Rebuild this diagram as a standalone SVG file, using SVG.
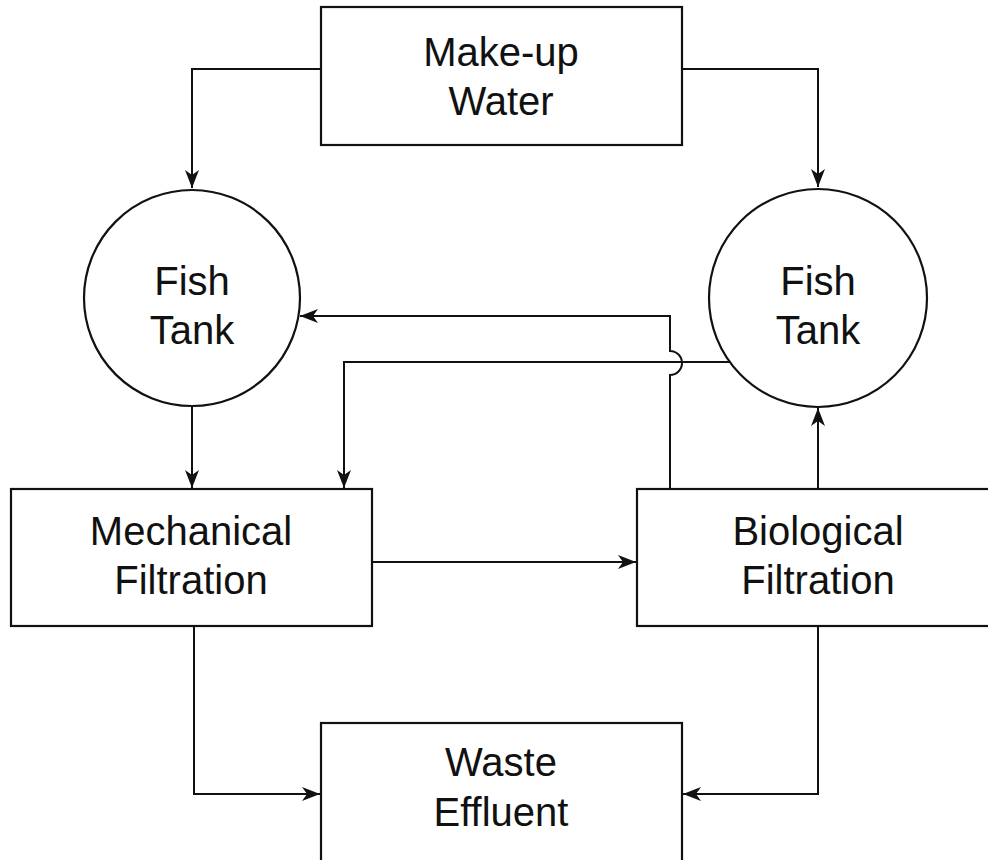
<svg xmlns="http://www.w3.org/2000/svg" width="988" height="860" viewBox="0 0 988 860">
<defs>
<style>
.node{fill:#fff;stroke:#111;stroke-width:2.2}
.lbl{font-family:"Liberation Sans",Arial,sans-serif;font-size:40px;fill:#111;text-anchor:middle}
.conn{fill:none;stroke:#111;stroke-width:2}
</style>
<marker id="arr" markerUnits="userSpaceOnUse" markerWidth="20" markerHeight="16" refX="18" refY="7" orient="auto">
<path d="M0,0 L18,7 L0,14 L5,7 Z" fill="#111"/>
</marker>
</defs>
<rect width="988" height="860" fill="#fff"/>
<g id="connectors">
<path class="conn" d="M321,69 H192 V188" marker-end="url(#arr)"/>
<path class="conn" d="M682,69 H818 V187" marker-end="url(#arr)"/>
<path class="conn" d="M192,407 V488" marker-end="url(#arr)"/>
<path class="conn" d="M730,362 H344 V488" marker-end="url(#arr)"/>
<path class="conn" d="M670,489 V375 A12,12 0 0 0 670,351 V316 H300" marker-end="url(#arr)"/>
<path class="conn" d="M818,489 V408" marker-end="url(#arr)"/>
<path class="conn" d="M372,562 H636" marker-end="url(#arr)"/>
<path class="conn" d="M194,627 V794 H320" marker-end="url(#arr)"/>
<path class="conn" d="M818,627 V794 H683" marker-end="url(#arr)"/>
</g>
<g id="makeup">
<rect class="node" x="321" y="7" width="361" height="138"/>
<text class="lbl" x="501" y="66">Make-up</text>
<text class="lbl" x="501" y="115">Water</text>
</g>
<g id="tank-left">
<circle class="node" cx="192" cy="298" r="108"/>
<text class="lbl" x="192" y="295">Fish</text>
<text class="lbl" x="192" y="344">Tank</text>
</g>
<g id="tank-right">
<circle class="node" cx="818" cy="298" r="109"/>
<text class="lbl" x="818" y="295">Fish</text>
<text class="lbl" x="818" y="344">Tank</text>
</g>
<g id="mechanical">
<rect class="node" x="11" y="489" width="361" height="137"/>
<text class="lbl" x="191" y="545">Mechanical</text>
<text class="lbl" x="191" y="594">Filtration</text>
</g>
<g id="biological">
<rect class="node" x="637" y="489" width="361" height="137"/>
<text class="lbl" x="818" y="545">Biological</text>
<text class="lbl" x="818" y="594">Filtration</text>
</g>
<g id="waste">
<rect class="node" x="321" y="723" width="361" height="200"/>
<text class="lbl" x="501" y="776">Waste</text>
<text class="lbl" x="501" y="826">Effluent</text>
</g>
</svg>
